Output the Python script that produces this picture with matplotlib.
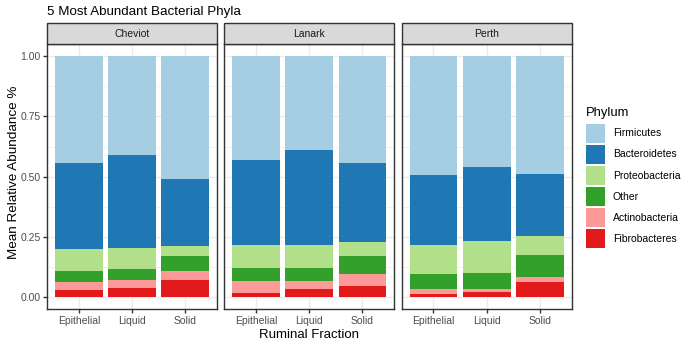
import matplotlib.pyplot as plt
from matplotlib.patches import Patch, Rectangle
import numpy as np

plt.rcParams['font.family'] = ['Liberation Sans', 'DejaVu Sans']

# facet panels and bars
locations = ['Cheviot', 'Lanark', 'Perth']
fractions = ['Epithelial', 'Liquid', 'Solid']

# mean relative abundance, order: Cheviot E/L/S, Lanark E/L/S, Perth E/L/S
fibrobacteres = [0.027, 0.039, 0.072, 0.018, 0.033, 0.044, 0.014, 0.022, 0.062]
actinobacteria = [0.034, 0.031, 0.035, 0.047, 0.035, 0.052, 0.018, 0.013, 0.020]
other = [0.047, 0.045, 0.063, 0.057, 0.054, 0.073, 0.065, 0.066, 0.093]
proteobacteria = [0.091, 0.090, 0.040, 0.093, 0.093, 0.061, 0.117, 0.131, 0.079]
bacteroidetes = [0.356, 0.386, 0.280, 0.353, 0.396, 0.325, 0.293, 0.310, 0.258]
firmicutes = [0.445, 0.409, 0.510, 0.432, 0.389, 0.445, 0.493, 0.458, 0.488]

# legend order (top to bottom)
phyla = ['Firmicutes', 'Bacteroidetes', 'Proteobacteria', 'Other',
         'Actinobacteria', 'Fibrobacteres']
colors = ['#A6CEE3', '#1F78B4', '#B2DF8A', '#33A02C', '#FB9A99', '#E31A1C']

# stacked bottom -> top
stack = [fibrobacteres, actinobacteria, other, proteobacteria, bacteroidetes, firmicutes]
stack_colors = colors[::-1]

W, H = 685, 341
fig = plt.figure(figsize=(W / 100, H / 100), dpi=100)

left, pw, gap = 47, 170, 7.3
top, bottom = 44.3, 309
strip_h = 21.3
small = 7.5

for i, loc in enumerate(locations):
    x0 = left + i * (pw + gap)
    ax = fig.add_axes([x0 / W, 1 - bottom / H, pw / W, (bottom - top) / H])
    xs = np.arange(len(fractions))
    base = np.zeros(len(fractions))
    for vals, col in zip(stack, stack_colors):
        v = np.array(vals[i * 3:(i + 1) * 3])
        ax.bar(xs, v, bottom=base, width=0.9, color=col, zorder=3)
        base += v

    ax.set_xlim(-0.6, 2.6)
    ax.set_ylim(-0.05, 1.05)
    ax.set_yticks([0, 0.25, 0.5, 0.75, 1.0])
    ax.set_yticks([0.125, 0.375, 0.625, 0.875], minor=True)
    ax.set_xticks(xs)
    ax.set_xticklabels(fractions)
    ax.grid(True, which='major', color='#EBEBEB', linewidth=1.0, zorder=0)
    ax.grid(True, which='minor', axis='y', color='#EBEBEB', linewidth=0.5, zorder=0)
    ax.tick_params(axis='both', which='major', length=3.2, width=1.0, color='#333333',
                   labelsize=small, labelcolor='#4D4D4D', pad=1.5)
    ax.tick_params(axis='both', which='minor', length=0)
    for s in ax.spines.values():
        s.set_color('#333333')
        s.set_linewidth(1.0)
    if i == 0:
        ax.set_yticklabels(['0.00', '0.25', '0.50', '0.75', '1.00'])
    else:
        ax.tick_params(axis='y', which='major', length=0, labelleft=False)

    # facet strip
    fig.patches.append(Rectangle((x0 / W, 1 - top / H), pw / W, strip_h / H,
                                 transform=fig.transFigure, facecolor='#D9D9D9',
                                 edgecolor='#333333', linewidth=1.0))
    fig.text((x0 + pw / 2) / W, 1 - (top - strip_h / 2) / H, loc, ha='center',
             va='center', fontsize=small, color='#1A1A1A')

fig.text(47 / W, 1 - 15 / H, '5 Most Abundant Bacterial Phyla', ha='left',
         va='baseline', fontsize=9.6, color='black')
fig.text((left + 1.5 * pw + gap) / W, 1 - 337.5 / H, 'Ruminal Fraction', ha='center',
         va='baseline', fontsize=9.5)
fig.text(14 / W, 1 - 172 / H, 'Mean Relative Abundance %', rotation=90,
         ha='center', va='center', fontsize=9.7)

# legend
fig.text(585.7 / W, 1 - 115.7 / H, 'Phylum', ha='left', va='baseline', fontsize=9.4)
handles = [Patch(facecolor=c, edgecolor='none') for c in colors]
fig.legend(handles, phyla, loc='upper left', bbox_to_anchor=(585.7 / W, 1 - 123.5 / H),
           frameon=False, fontsize=small, handlelength=1.87, handleheight=2.48,
           labelspacing=0.17, handletextpad=0.72, borderpad=0, borderaxespad=0)

fig.savefig('out.png', dpi=100)
